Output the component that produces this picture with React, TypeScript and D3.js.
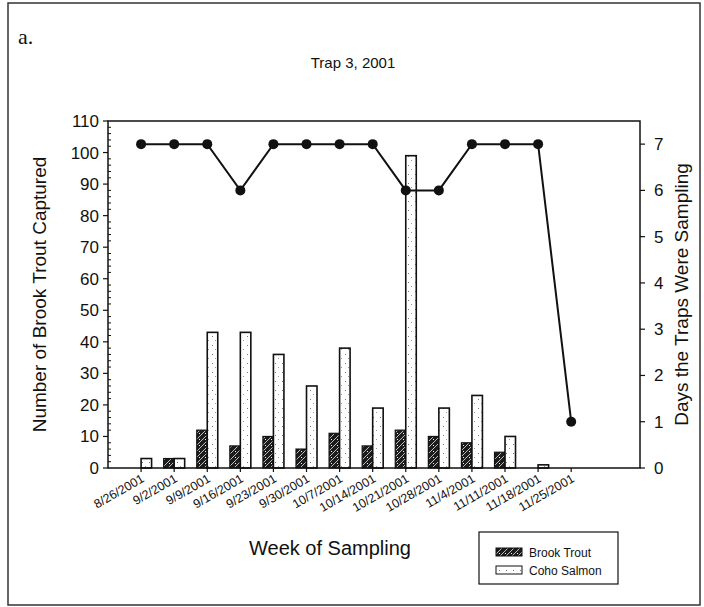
import React from 'react';
import * as d3 from 'd3';

const weeks = ['8/26/2001', '9/2/2001', '9/9/2001', '9/16/2001', '9/23/2001', '9/30/2001', '10/7/2001',
  '10/14/2001', '10/21/2001', '10/28/2001', '11/4/2001', '11/11/2001', '11/18/2001', '11/25/2001'];
const brookTrout = [0, 3, 12, 7, 10, 6, 11, 7, 12, 10, 8, 5, 0, 0];
const cohoSalmon = [3, 3, 43, 43, 36, 26, 38, 19, 99, 19, 23, 10, 1, 0];
const daysSampled = [7, 7, 7, 6, 7, 7, 7, 7, 6, 6, 7, 7, 7, 1];
const leftTicks = [0, 10, 20, 30, 40, 50, 60, 70, 80, 90, 100, 110];
const rightTicks = [0, 1, 2, 3, 4, 5, 6, 7];

const FONT = '"Liberation Sans", Arial, sans-serif';

export default function App() {
  const left = 108, right = 640, top = 121, bottom = 468;
  const x = d3.scaleLinear().domain([-1, 15.08]).range([left, right]);
  const yL = d3.scaleLinear().domain([0, 110]).range([bottom, top]);
  const yR = d3.scaleLinear().domain([0, 7.5]).range([bottom, top]);
  const barW = 10.5;

  const line = d3.line<number>()
    .x((_, i) => x(i))
    .y((d) => yR(d));

  const minorTicks = d3.range(0, 111, 2).filter((v) => v % 10 !== 0);

  return (
    <svg width={704} height={607} style={{ position: 'absolute', left: 0, top: 0, background: '#fff' }}
      fontFamily={FONT}>
      <defs>
        <pattern id="brook" width={6} height={6} patternUnits="userSpaceOnUse">
          <rect width={6} height={6} fill="#1c1c1c" />
          <path d="M0,6 L6,0" stroke="#bbb" strokeWidth={1} />
          <rect x={1} y={1} width={1} height={1} fill="#eee" />
        </pattern>
        <pattern id="coho" width={7} height={9} patternUnits="userSpaceOnUse">
          <rect width={7} height={9} fill="#fff" />
          <rect x={2} y={3} width={1} height={1} fill="#777" />
          <rect x={5} y={7} width={1} height={1} fill="#999" />
        </pattern>
      </defs>

      {/* outer frame */}
      <rect x={8} y={3} width={692} height={602} fill="none" stroke="#333" strokeWidth={1.5} />
      <text x={18} y={44} fontFamily='"Liberation Serif", serif' fontSize={22} fill="#111">a.</text>
      <text x={353} y={68} textAnchor="middle" fontSize={15} fill="#111">Trap 3, 2001</text>

      {/* bars */}
      {brookTrout.map((v, i) => (
        <rect key={'b' + i} x={x(i) - barW} y={yL(v)} width={barW} height={bottom - yL(v)}
          fill="url(#brook)" stroke={v > 0 ? '#111' : 'none'} strokeWidth={1.2} />
      ))}
      {cohoSalmon.map((v, i) => (
        <rect key={'c' + i} x={x(i)} y={yL(v)} width={barW} height={bottom - yL(v)}
          fill="url(#coho)" stroke={v > 0 ? '#111' : 'none'} strokeWidth={1.6} />
      ))}

      {/* plot frame */}
      <rect x={left} y={top} width={right - left} height={bottom - top} fill="none" stroke="#111" strokeWidth={1.5} />

      {/* days line */}
      <path d={line(daysSampled) || ''} fill="none" stroke="#111" strokeWidth={2} />
      {daysSampled.map((d, i) => (
        <circle key={'d' + i} cx={x(i)} cy={yR(d)} r={5} fill="#111" />
      ))}

      {/* left axis */}
      {leftTicks.map((t) => (
        <g key={'l' + t}>
          <line x1={left - 5} x2={left} y1={yL(t)} y2={yL(t)} stroke="#111" strokeWidth={1.2} />
          <text x={left - 9} y={yL(t) + 6} textAnchor="end" fontSize={17} fill="#111">{t}</text>
        </g>
      ))}
      {minorTicks.map((t) => (
        <line key={'m' + t} x1={left} x2={left + 3} y1={yL(t)} y2={yL(t)} stroke="#111" strokeWidth={1} />
      ))}
      <text transform={`translate(46,${(top + bottom) / 2}) rotate(-90)`} textAnchor="middle" fontSize={19}
        fill="#111">Number of Brook Trout Captured</text>

      {/* right axis */}
      {rightTicks.map((t) => (
        <g key={'r' + t}>
          <line x1={right} x2={right + 5} y1={yR(t)} y2={yR(t)} stroke="#111" strokeWidth={1.2} />
          <text x={right + 14} y={yR(t) + 6} fontSize={17} fill="#111">{t}</text>
        </g>
      ))}
      <text transform={`translate(688,${(top + bottom) / 2}) rotate(-90)`} textAnchor="middle" fontSize={19}
        fill="#111">Days the Traps Were Sampling</text>

      {/* x axis */}
      {weeks.map((w, i) => (
        <g key={'x' + i}>
          <line x1={x(i)} x2={x(i)} y1={bottom} y2={bottom + 4} stroke="#111" strokeWidth={1.2} />
          <text transform={`translate(${x(i) + 4},${bottom + 13}) rotate(-30)`} textAnchor="end" fontSize={12.5}
            fill="#111">{w}</text>
        </g>
      ))}
      <text x={330} y={555} textAnchor="middle" fontSize={20} fill="#111">Week of Sampling</text>

      {/* legend */}
      <rect x={479} y={532} width={139} height={52} fill="#fff" stroke="#111" strokeWidth={1.2} />
      <rect x={496} y={548} width={26} height={8} fill="url(#brook)" stroke="#111" strokeWidth={1} />
      <text x={529} y={557} fontSize={12} fill="#111">Brook Trout</text>
      <rect x={496} y={566} width={26} height={8} fill="url(#coho)" stroke="#111" strokeWidth={1} />
      <text x={529} y={575} fontSize={12} fill="#111">Coho Salmon</text>
    </svg>
  );
}
